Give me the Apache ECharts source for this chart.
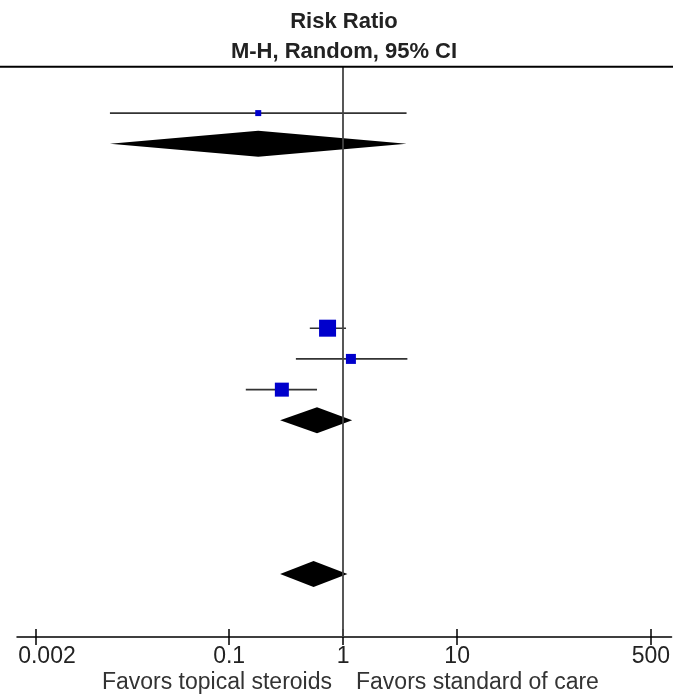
<!DOCTYPE html>
<html>
<head>
<meta charset="utf-8">
<script src="https://cdn.jsdelivr.net/npm/echarts@6/dist/echarts.min.js"></script>
<style>
html,body{margin:0;padding:0;background:#fff;}
#chart{width:673px;height:697px;}
</style>
</head>
<body>
<div id="chart"></div>
<script>
// ---- data ----
const studyRows = [0, 7, 8, 9];
const studyRR = [0.18, 0.73, 1.17, 0.29];
const studyLower = [0.009, 0.51, 0.385, 0.14];
const studyUpper = [3.6, 1.06, 3.66, 0.59];

const pooledRows = [1, 10, 15];
const pooledRR = [0.18, 0.59, 0.55];
const pooledLower = [0.009, 0.28, 0.28];
const pooledUpper = [3.6, 1.2, 1.09];

const tickValues = [0.002, 0.1, 1, 10, 500];
const tickLabels = ['0.002', '0.1', '1', '10', '500'];

const titleLines = ['Risk Ratio', 'M-H, Random, 95% CI'];
const favorsLeft = 'Favors topical steroids';
const favorsRight = 'Favors standard of care';

// ---- styling ----
const FONT = '"Liberation Sans", Arial, Helvetica, sans-serif';
const squareSizes = [6, 17, 10, 14];
const diamondHalfHeight = 13;

const L = Math.log10;
const tickLog = tickValues.map(L);

function labelFor(v) {
  let best = 0, bd = Infinity;
  tickLog.forEach((t, i) => { const d = Math.abs(t - v); if (d < bd) { bd = d; best = i; } });
  return best === 0 ? '{first|' + tickLabels[best] + '}' : tickLabels[best];
}

const chart = echarts.init(document.getElementById('chart'), null, {renderer: 'canvas'});

const ciData = studyRows.map((r, i) => [L(studyLower[i]), L(studyUpper[i]), r]);
const squareData = studyRows.map((r, i) => ({value: [L(studyRR[i]), r], symbolSize: squareSizes[i]}));
const diamondData = pooledRows.map((r, i) => [L(pooledLower[i]), L(pooledRR[i]), L(pooledUpper[i]), r]);

const xMin = -2.861, xMax = 2.881;

const option = {
  animation: false,
  backgroundColor: '#fff',
  grid: {left: 17, right: 0, top: 67, bottom: 60},
  xAxis: [
    {
      type: 'value', min: xMin, max: xMax, position: 'bottom',
      axisLine: {show: true, onZero: false, lineStyle: {color: '#000', width: 1.5}},
      axisTick: {show: false},
      axisLabel: {
        show: true, customValues: tickLog, margin: 8,
        fontFamily: FONT, fontSize: 23, color: '#222',
        formatter: labelFor,
        rich: {first: {fontFamily: FONT, fontSize: 23, color: '#222', padding: [0, 0, 0, 23]}}
      },
      splitLine: {show: false}
    },
    {
      type: 'value', min: xMin, max: xMax, position: 'bottom', offset: -8,
      axisLine: {show: false, onZero: false},
      axisTick: {show: true, inside: false, length: 16, customValues: tickLog, lineStyle: {color: '#000', width: 1.5}},
      axisLabel: {show: false},
      splitLine: {show: false}
    }
  ],
  yAxis: {type: 'value', inverse: true, min: -1.5, max: 17.05, show: false},
  graphic: [
    {type: 'line', shape: {x1: 0, y1: 66.7, x2: 673, y2: 66.7}, style: {stroke: '#000', lineWidth: 2}, z: 10},
    {type: 'text', x: 344, y: 22.3, style: {text: titleLines[0], fontFamily: FONT, fontSize: 22, fontWeight: 'bold', fill: '#222', align: 'center', verticalAlign: 'middle'}},
    {type: 'text', x: 344, y: 52.3, style: {text: titleLines[1], fontFamily: FONT, fontSize: 22, fontWeight: 'bold', fill: '#222', align: 'center', verticalAlign: 'middle'}},
    {type: 'text', x: 332, y: 682.6, style: {text: favorsLeft, fontFamily: FONT, fontSize: 23, fill: '#333', align: 'right', verticalAlign: 'middle'}},
    {type: 'text', x: 356, y: 682.6, style: {text: favorsRight, fontFamily: FONT, fontSize: 23, fill: '#333', align: 'left', verticalAlign: 'middle'}}
  ],
  series: [
    {
      type: 'custom', name: 'CI', xAxisIndex: 0,
      renderItem: function (params, api) {
        const a = api.coord([api.value(0), api.value(2)]);
        const b = api.coord([api.value(1), api.value(2)]);
        return {type: 'line', shape: {x1: a[0], y1: a[1], x2: b[0], y2: b[1]}, style: {stroke: '#333', lineWidth: 1.6}};
      },
      encode: {x: [0, 1], y: 2},
      data: ciData, z: 2,
      markLine: {
        silent: true, symbol: 'none', label: {show: false},
        lineStyle: {color: '#444', width: 1.8, type: 'solid'},
        data: [{xAxis: 0}]
      }
    },
    {
      type: 'scatter', name: 'Studies', xAxisIndex: 0,
      symbol: 'rect', itemStyle: {color: '#0000CC', opacity: 1},
      data: squareData, z: 4
    },
    {
      type: 'custom', name: 'Pooled', xAxisIndex: 0,
      renderItem: function (params, api) {
        const y = api.value(3);
        const lo = api.coord([api.value(0), y]);
        const mid = api.coord([api.value(1), y]);
        const hi = api.coord([api.value(2), y]);
        const h = diamondHalfHeight;
        return {
          type: 'polygon',
          shape: {points: [[lo[0], lo[1]], [mid[0], mid[1] - h], [hi[0], hi[1]], [mid[0], mid[1] + h]]},
          style: {fill: '#000'}
        };
      },
      encode: {x: [0, 1, 2], y: 3},
      data: diamondData, z: 3
    }
  ]
};
chart.setOption(option);
</script>
</body>
</html>
